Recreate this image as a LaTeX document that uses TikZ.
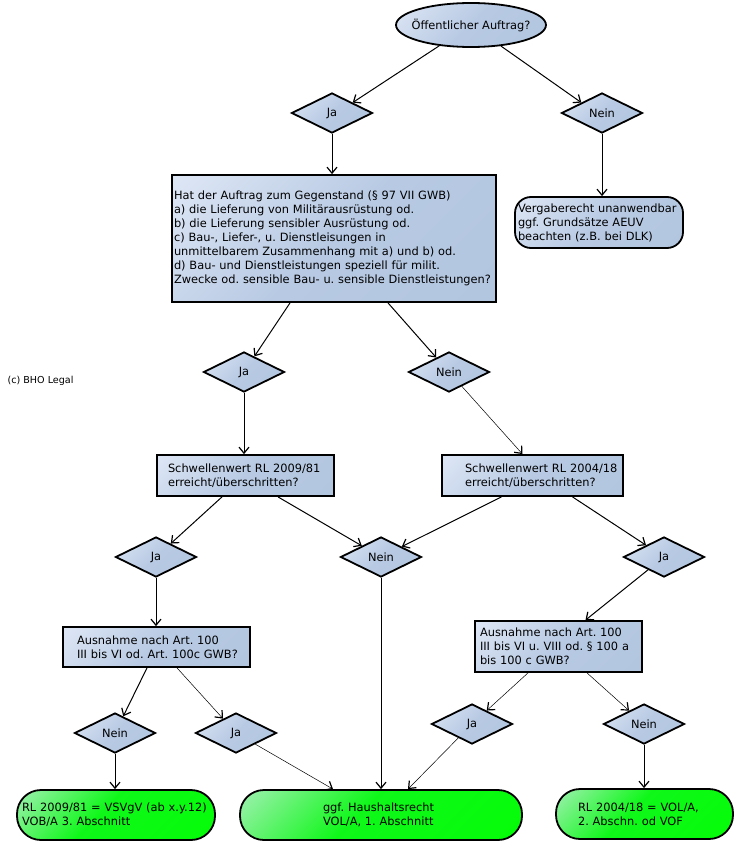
\documentclass[tikz,border=0pt]{standalone}
\usepackage{fontspec}
\setmainfont{DejaVu Sans}
\usetikzlibrary{shapes.geometric,arrows.meta,calc}
\hyphenpenalty=10000
\exhyphenpenalty=10000
\pgfdeclareverticalshading{boxsh}{100bp}{rgb(0bp)=(0.69,0.77,0.87); rgb(50bp)=(0.72,0.79,0.89); rgb(100bp)=(0.93,0.95,0.99)}
\pgfdeclareverticalshading{greensh}{100bp}{rgb(0bp)=(0,1,0); rgb(55bp)=(0.06,0.97,0.10); rgb(100bp)=(0.90,0.93,0.98)}
\begin{document}
\frenchspacing
\begin{tikzpicture}[x=1pt,y=-1pt,
  every node/.style={font=\fontsize{11.4}{14}\selectfont\frenchspacing},
  box/.style={draw, rectangle, line width=1.8pt, shading=boxsh, shading angle=45, align=left, inner xsep=2pt, inner ysep=0pt},
  dia/.style={draw, diamond, line width=1.8pt, shading=boxsh, shading angle=45, minimum width=81pt, minimum height=40pt, inner sep=0pt, aspect=2},
  term/.style={draw, rectangle, rounded corners=24pt, line width=1.8pt, shading=greensh, shading angle=45, align=left, inner xsep=2pt, inner ysep=0pt, minimum height=50pt},
  ind/.style={execute at begin node={\leftskip=#1\relax}},
  arr/.style={-{Straight Barb[length=6pt,width=10pt,line width=1.2pt]}, line width=1pt},
  tarr/.style={-{Straight Barb[length=6pt,width=10pt,line width=1.2pt]}, line width=0.5pt}]
\useasboundingbox (0,0) rectangle (734,843);

\node[draw, ellipse, line width=1.8pt, shading=boxsh, shading angle=45, minimum width=150pt, minimum height=44pt, inner sep=0pt] (ell) at (471,25) {\makebox[0pt]{Öffentlicher Auftrag?}};

\node[dia] (ja1) at (332,113) {Ja};
\node[dia] (nein1) at (602,113) {Nein};

\node[box, minimum width=324pt, minimum height=127pt, text width=320pt] (big) at (334,238.5)
  {Hat der Auftrag zum Gegenstand (§ 97 VII GWB)\\
   a) die Lieferung von Militärausrüstung od.\\
   b) die Lieferung sensibler Ausrüstung od.\\
   c) Bau-, Liefer-, u. Dienstleisungen in\\
   unmittelbarem Zusammenhang mit a) und b) od.\\
   d) Bau- und Dienstleistungen speziell für milit.\\
   Zwecke od. sensible Bau- u. sensible Dienstleistungen?};

\node[box, rounded corners=16pt, minimum width=168pt, minimum height=51pt, text width=164pt, ind=1pt] (verg) at (599,222.5)
  {Vergaberecht unanwendbar\\ggf. Grundsätze AEUV\\beachten (z.B. bei DLK)};

\node[anchor=west, font=\fontsize{9.6}{12}\selectfont] (copy) at (4,381) {(c) BHO Legal};

\node[dia] (ja3) at (244,372) {Ja};
\node[dia] (nein3) at (449,372) {Nein};

\node[box, minimum width=177pt, minimum height=41pt, text width=173pt, ind=9pt] (s2009) at (245.5,475.5)
  {Schwellenwert RL 2009/81\\erreicht/überschritten?};
\node[box, minimum width=181pt, minimum height=41pt, text width=177pt, ind=21pt] (s2004) at (532.5,475.5)
  {Schwellenwert RL 2004/18\\erreicht/überschritten?};

\node[dia] (ja5L) at (156,557) {Ja};
\node[dia] (nein5) at (381,557) {Nein};
\node[dia] (ja5R) at (664,557) {Ja};

\node[box, minimum width=187pt, minimum height=40pt, text width=183pt, ind=12pt] (aL) at (156.5,647)
  {Ausnahme nach Art. 100\\III bis VI od. Art. 100c GWB?};
\node[box, minimum width=167pt, minimum height=51pt, text width=163pt, ind=3pt] (aR) at (558.5,646.5)
  {Ausnahme nach Art. 100\\III bis VI u. VIII od. § 100 a\\bis 100 c GWB?};

\node[dia] (nein7L) at (115,733) {Nein};
\node[dia] (ja7) at (236,733) {Ja};
\node[dia] (ja7R) at (472,724) {Ja};
\node[dia] (nein7R) at (644,724) {Nein};

\node[term, minimum width=198pt, text width=194pt, ind=3pt] (gL) at (116,815)
  {RL 2009/81 = VSVgV (ab x.y.12)\\VOB/A 3. Abschnitt};
\node[term, minimum width=282pt, text width=278pt, ind=81pt] (haus) at (381,815)
  {ggf. Haushaltsrecht\\VOL/A, 1. Abschnitt};
\node[term, minimum width=177pt, text width=173pt, ind=20pt] (gR) at (644.5,814)
  {RL 2004/18 = VOL/A,\\2. Abschn. od VOF};

% connectors
\draw[arr] (ell) -- (ja1.north east);
\draw[arr] (ell) -- (nein1.north west);
\draw[arr] (ja1) -- (ja1 |- big.north);
\draw[arr] (nein1) -- (nein1 |- verg.north);
\draw[arr] ([xshift=-44pt]big.south) -- (ja3);
\draw[arr] ([xshift=54pt]big.south) -- (nein3);
\draw[arr] (ja3) -- (ja3 |- s2009.north);
\draw[tarr] (nein3) -- ([xshift=-10pt]s2004.north);
\draw[arr] ([xshift=-23.5pt]s2009.south) -- (ja5L);
\draw[arr] ([xshift=32.5pt]s2009.south) -- (nein5);
\draw[arr] ([xshift=-31pt]s2004.south) -- (nein5);
\draw[arr] ([xshift=40pt]s2004.south) -- (ja5R);
\draw[arr] (ja5L) -- (ja5L |- aL.north);
\draw[arr] (nein5) -- (nein5 |- haus.north);
\draw[arr] (ja5R) -- ([xshift=27pt]aR.north);
\draw[arr] ([xshift=-9.5pt]aL.south) -- (nein7L);
\draw[tarr] ([xshift=20.5pt]aL.south) -- (ja7);
\draw[arr] (nein7L) -- (nein7L |- gL.north);
\draw[tarr] (ja7) -- ([xshift=-48pt]haus.north);
\draw[tarr] ([xshift=-30.5pt]aR.south) -- (ja7R);
\draw[tarr] ([xshift=28.5pt]aR.south) -- (nein7R);
\draw[tarr] (ja7R) -- ([xshift=27pt]haus.north);
\draw[arr] (nein7R) -- (nein7R |- gR.north);
\end{tikzpicture}
\end{document}
